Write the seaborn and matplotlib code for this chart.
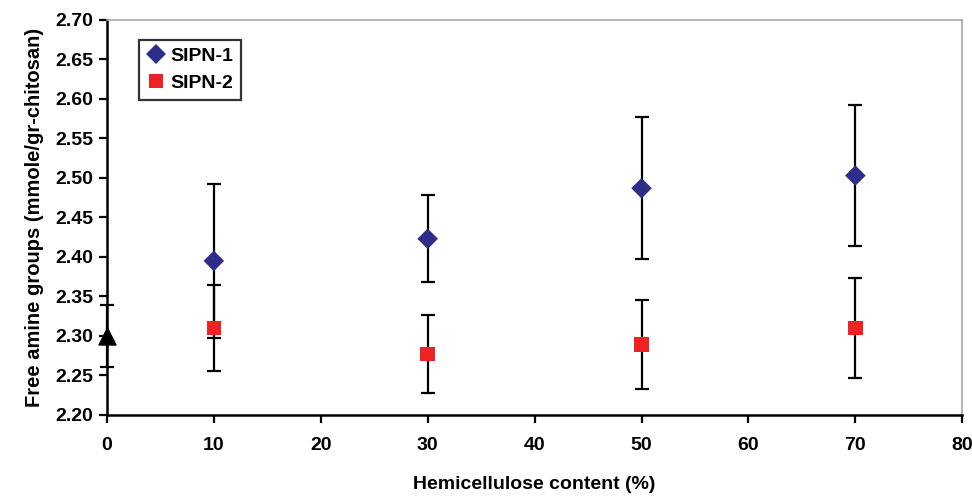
import matplotlib
matplotlib.use("Agg")
import matplotlib.pyplot as plt
import seaborn as sns
import pandas as pd

# Data
content = [10, 30, 50, 70]
sipn1 = [2.395, 2.423, 2.487, 2.503]
sipn1_err = [0.097, 0.055, 0.090, 0.089]
sipn2 = [2.310, 2.277, 2.289, 2.310]
sipn2_err = [0.054, 0.049, 0.056, 0.063]
chitosan_x = [0]
chitosan_y = [2.300]
chitosan_err = [0.039]
series_names = ["SIPN-1", "SIPN-2"]
x_ticks = [0, 10, 20, 30, 40, 50, 60, 70, 80]
y_ticks = [2.20, 2.25, 2.30, 2.35, 2.40, 2.45, 2.50, 2.55, 2.60, 2.65, 2.70]

df = pd.DataFrame({
    "content": content * 2,
    "value": sipn1 + sipn2,
    "err": sipn1_err + sipn2_err,
    "series": [series_names[0]] * len(content) + [series_names[1]] * len(content),
})

sns.set_theme(style="white")
plt.rcParams["font.family"] = ["Liberation Sans", "DejaVu Sans"]
plt.rcParams["font.weight"] = "bold"
plt.rcParams["text.color"] = "black"
plt.rcParams["axes.labelcolor"] = "black"
plt.rcParams["xtick.color"] = "black"
plt.rcParams["ytick.color"] = "black"

fig = plt.figure(figsize=(9.72, 4.98), dpi=100)
ax = fig.add_axes([0.110, 0.1667, 0.880, 0.7933])

# error bars
ax.errorbar(df["content"], df["value"], yerr=df["err"], fmt="none",
            ecolor="black", elinewidth=1.6, capsize=5, capthick=1.6, zorder=2)
ax.errorbar(chitosan_x, chitosan_y, yerr=chitosan_err, fmt="none",
            ecolor="black", elinewidth=1.6, capsize=5, capthick=1.6, zorder=2,
            clip_on=False)

palette = {"SIPN-1": "#2e2e8a", "SIPN-2": "#ee2222"}
markers = {"SIPN-1": "D", "SIPN-2": "s"}
sns.scatterplot(data=df, x="content", y="value", hue="series", style="series",
                palette=palette, markers=markers, s=110, linewidth=0,
                ax=ax, zorder=3, legend=True)
ax.scatter(chitosan_x, chitosan_y, marker="^", s=150, color="black",
           zorder=4, clip_on=False)

ax.set_xlim(0, 80)
ax.set_ylim(2.20, 2.70)
ax.set_xticks(x_ticks)
ax.set_yticks(y_ticks)
ax.set_xticklabels([str(t) for t in x_ticks], fontsize=14, fontweight="bold")
ax.set_yticklabels([f"{t:.2f}" for t in y_ticks], fontsize=14, fontweight="bold")
ax.tick_params(axis="both", direction="out", length=6, width=1.6, color="black",
               left=True, bottom=True, pad=4)
ax.tick_params(axis="x", pad=10)

ax.set_xlabel("Hemicellulose content (%)", fontsize=14, fontweight="bold", labelpad=16)
ax.set_ylabel("Free amine groups (mmole/gr-chitosan)", fontsize=14.5,
              fontweight="bold", labelpad=8)

for side in ["left", "bottom"]:
    ax.spines[side].set_color("black")
    ax.spines[side].set_linewidth(1.8)
for side in ["top", "right"]:
    ax.spines[side].set_color("#a8a8a8")
    ax.spines[side].set_linewidth(1.2)

handles, labels = ax.get_legend_handles_labels()
leg = ax.legend(handles, labels, loc="upper left", bbox_to_anchor=(0.026, 0.975),
                frameon=True, fancybox=False, edgecolor="black", fontsize=14,
                handletextpad=0.2, borderpad=0.4, labelspacing=0.5,
                handlelength=1.0, markerscale=1.0)
leg.get_frame().set_linewidth(1.6)
for t in leg.get_texts():
    t.set_fontweight("bold")

fig.savefig("out.png", dpi=100)
